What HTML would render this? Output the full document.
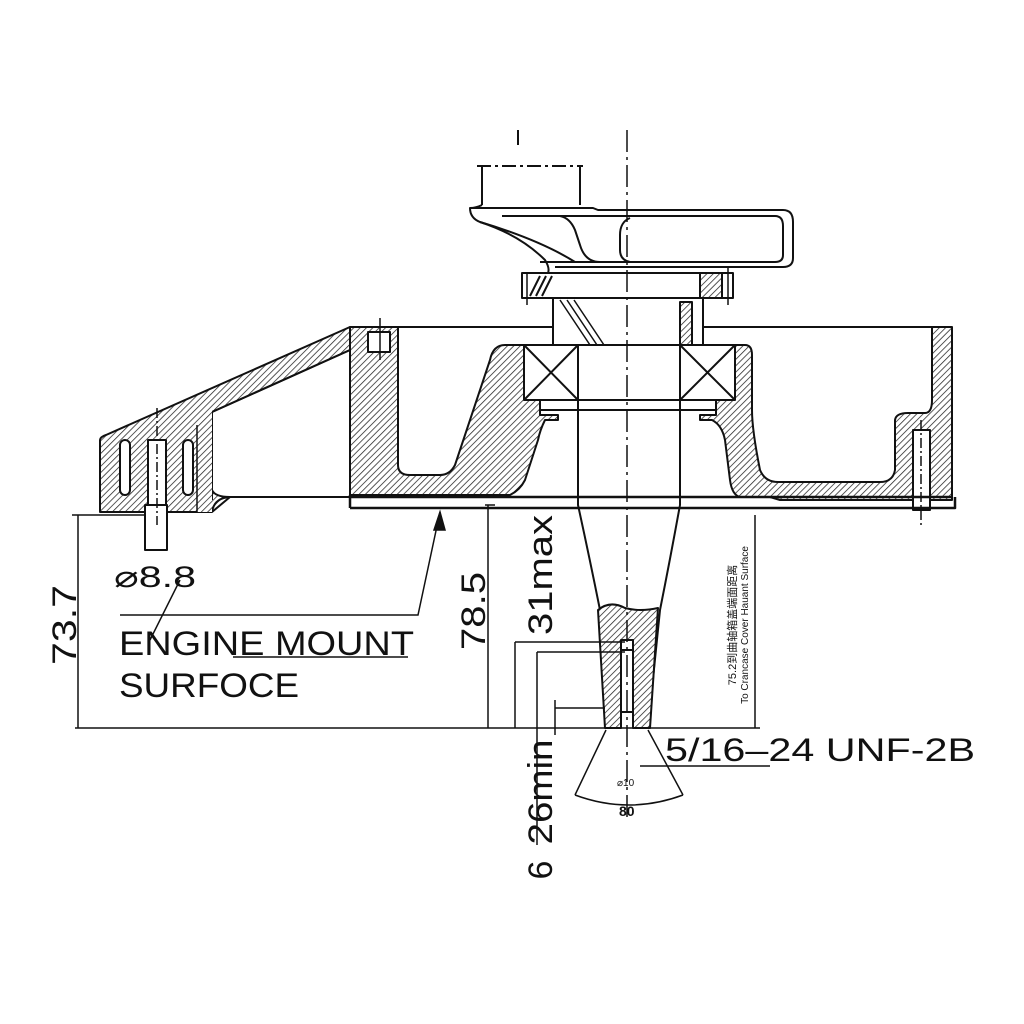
<!DOCTYPE html>
<html><head><meta charset="utf-8"><style>
html,body{margin:0;padding:0;background:#fff;}
svg{display:block;}
text{font-family:"Liberation Sans","Noto Sans CJK SC",sans-serif;fill:#111;}
</style></head><body>
<svg width="1024" height="1024" viewBox="0 0 1024 1024" xmlns="http://www.w3.org/2000/svg">
<defs>
<pattern id="h" width="4.5" height="4.5" patternUnits="userSpaceOnUse" patternTransform="rotate(45)">
<rect width="5" height="5" fill="#fff"/><line x1="0" y1="0" x2="0" y2="5" stroke="#222" stroke-width="1.5"/>
</pattern>
</defs>
<g stroke="#111" stroke-width="2" fill="none" stroke-linejoin="round">
<!-- flywheel top -->
<path d="M482,205 V166 M580,166 V205" />
<path d="M477,166 H583" stroke-dasharray="14,4,3,4"/>
<path d="M482,205 Q476,208 470,208 Q470,218 480,222 Q520,235 545,260 Q550,268 548,273" />
<path d="M470,208 H593 L598,210 H783 Q793,210 793,222 V258 Q793,267 783,267 H555"/>
<path d="M502,216 H775 Q783,216 783,226 V255 Q783,262 775,262 H600 Q585,262 580,245 L575,230 Q570,218 560,216"/>
<path d="M480,222 Q540,240 575,262" />
<path d="M540,262 H600"/>
<path d="M630,218 Q620,222 620,235 V250 Q620,260 630,262"/>
<!-- nut -->
<rect x="522" y="273" width="211" height="25"/>
<path d="M527,273 V305 M728,268 V305" stroke-width="1.5"/>
<rect x="700" y="273" width="22" height="25" fill="url(#h)"/>
<path d="M530,296 L540,276 M536,296 L546,276 M542,296 L552,276"/>
<!-- collar -->
<rect x="553" y="298" width="150" height="47"/>
<rect x="680" y="302" width="12" height="43" fill="url(#h)"/>
<path d="M560,300 L590,345 M567,300 L597,345 M574,300 L604,345" stroke-width="1.5"/>
<!-- housing top line -->
<path d="M350,327 H553 M703,327 H952"/>
<!-- left housing wall + floor -->
<path fill="url(#h)" d="M350,327 H398 V465 Q398,475 410,475 H440 Q450,475 455,465 L490,360 Q493,345 505,345 H524 V395 L540,398 V415 H558 V420 H545 Q540,430 538,440 L525,480 Q520,490 510,495 H350 Z"/>
<rect x="368" y="332" width="22" height="20" fill="#fff"/>
<!-- right side -->
<path fill="url(#h)" d="M735,345 H745 Q752,345 752,355 V410 Q752,430 760,470 Q765,482 778,482 H880 Q893,482 895,470 V420 Q896,413 908,413 H925 Q932,413 932,400 V327 H952 V500 H780 L770,497 H740 Q732,495 730,480 L725,440 Q722,425 712,420 H700 V415 H716 V400 L735,395 Z"/>
<rect x="913" y="430" width="17" height="80" fill="#fff"/>
<path d="M921,420 V525" stroke-dasharray="10,3,2,3" stroke-width="1.5"/>
<!-- bearings -->
<rect x="524" y="345" width="54" height="55" fill="#fff"/>
<path d="M524,345 L578,400 M578,345 L524,400"/>
<rect x="680" y="345" width="55" height="55" fill="#fff"/>
<path d="M680,345 L735,400 M735,345 L680,400"/>
<path d="M540,400 H716 V410 H540 Z"/>
<!-- gasket -->
<path d="M350,497 H952 M350,508 H955 V497 M350,495 V508" stroke-width="2.5"/>
<!-- shaft -->
<path d="M578,345 V505 Q590,560 600,610 L606,728 M680,345 V505 Q670,560 660,610 L648,728"/>
<path fill="url(#h)" d="M598,610 Q610,600 625,608 Q640,612 658,608 L650,728 H633 V640 H621 V728 H605 Z"/>
<path d="M621,640 H633 V728 M621,650 H633 M621,712 H633"/>
<path d="M627,130 V820" stroke-dasharray="22,5,3,5" stroke-width="1.5"/>
<path d="M518,130 V145" />
<!-- left arm -->
<path fill="url(#h)" d="M100,440 Q100,437 106,435 L350,327 V350 L212,412 V490 Q215,497 230,497 L212,512 H100 Z"/>
<path d="M212,412 L350,350 M212,412 V500 M212,512 Q214,498 230,497 H350"/>
<rect x="120" y="440" width="10" height="55" rx="5" fill="#fff"/>
<rect x="183" y="440" width="10" height="55" rx="5" fill="#fff"/>
<path fill="url(#h)" d="M197,412 L212,405 V512 H197 Z" stroke="none"/>
<path d="M197,425 V512" stroke-width="1.5"/>
<rect x="148" y="440" width="18" height="65" fill="#fff"/>
<rect x="145" y="505" width="22" height="45" fill="#fff"/>
<path d="M157,408 V525" stroke-dasharray="10,3,2,3" stroke-width="1.5"/>
<path d="M380,318 V360" stroke-width="1.5"/>
</g>
<!-- dimensions -->
<g stroke="#111" stroke-width="1.5" fill="none">
<path d="M72,515 H145 M75,728 H760 M78,515 V728"/>
<path d="M488,505 V728 M485,505 H495"/>
<path d="M515,642 H625 M515,642 V728"/>
<path d="M537,652 H625 M537,652 V845"/>
<path d="M555,708 H605 M555,700 V735"/>
<path d="M755,515 V728"/>
<path d="M575,795 L606,730 M683,795 L648,730 M575,795 Q629,815 683,795"/>
<path d="M640,766 H770"/>
<path d="M120,615 H418 L440,512" />
<path d="M440,512 L434,530 L445,530 Z" fill="#111"/>
<path d="M180,580 L150,640"/>
<path d="M233,657 H408"/>
</g>
<g font-size="34">
<text transform="translate(76,625) rotate(-90)" text-anchor="middle" textLength="80" lengthAdjust="spacingAndGlyphs">73.7</text>
<text transform="translate(485,611) rotate(-90)" text-anchor="middle" textLength="78" lengthAdjust="spacingAndGlyphs">78.5</text>
<text transform="translate(552,575) rotate(-90)" text-anchor="middle" textLength="120" lengthAdjust="spacingAndGlyphs">31max</text>
<text transform="translate(552,792) rotate(-90)" text-anchor="middle" textLength="105" lengthAdjust="spacingAndGlyphs">26min</text>
<text transform="translate(552,870) rotate(-90)" text-anchor="middle">6</text>
</g>
<text x="114" y="587" font-size="30" textLength="82" lengthAdjust="spacingAndGlyphs">⌀8.8</text>
<text x="119" y="655" font-size="34" textLength="295" lengthAdjust="spacingAndGlyphs">ENGINE MOUNT</text>
<text x="119" y="697" font-size="34" textLength="180" lengthAdjust="spacingAndGlyphs">SURFOCE</text>
<text x="665" y="761" font-size="32" textLength="310" lengthAdjust="spacingAndGlyphs">5/16–24 UNF-2B</text>
<text x="617" y="786" font-size="10">⌀10</text>
<text x="619" y="816" font-size="14" font-weight="bold">80</text>
<text transform="translate(736,625) rotate(-90)" text-anchor="middle" font-size="11">75.2到曲轴箱盖端面距离</text>
<text transform="translate(748,625) rotate(-90)" text-anchor="middle" font-size="10">To Crancase Cover Hauant Surface</text>
</svg>
</body></html>
